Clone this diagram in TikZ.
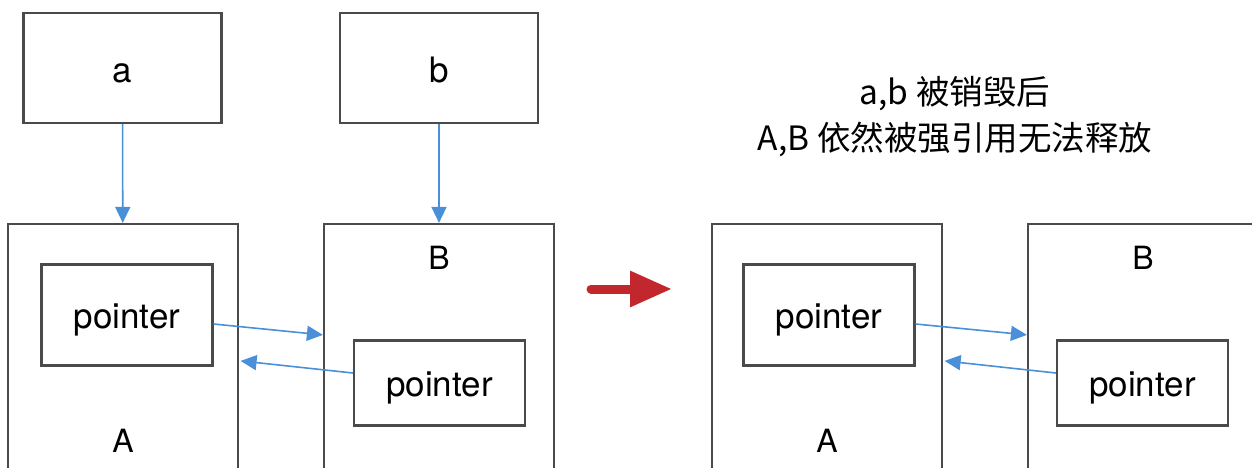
\documentclass[tikz,border=0pt]{standalone}
\usepackage{fontspec}
\setmainfont{TeX Gyre Heros}
\newfontfamily\cjk{Noto Sans CJK SC}
\usepackage{tikz}
\usetikzlibrary{arrows,arrows.meta}
\definecolor{boxgray}{HTML}{4A4A4A}
\definecolor{ptrblue}{HTML}{4A90D9}
\definecolor{bigred}{HTML}{C1272D}

\begin{document}
\begin{tikzpicture}[x=1pt,y=-1pt,
  var node/.style={rectangle,draw=boxgray,line width=2.2pt,minimum width=198pt,minimum height=110pt,
    inner sep=0pt,text height=30pt,text depth=0pt,font=\fontsize{35}{40}\selectfont},
  obj node/.style={rectangle,draw=boxgray,line width=2.2pt,minimum width=230pt,minimum height=306pt,inner sep=0pt},
  ptr node/.style={rectangle,draw=boxgray,line width=2.2pt,minimum width=171pt,
    inner sep=0pt,text height=26pt,text depth=0pt,font=\fontsize{35}{40}\selectfont},
  name node/.style={anchor=base,inner sep=0pt,font=\fontsize{32}{38}\selectfont},
  note node/.style={anchor=base,inner sep=0pt,font=\cjk\fontsize{33.5}{45}\selectfont},
  ref/.style={draw=ptrblue,line width=1.6pt,-{Triangle[length=16pt,width=15pt]}}]

  \useasboundingbox (0,0) rectangle (1252,468);
  \clip (0,0) rectangle (1252,468);

  % before: a and b still hold A and B
  \node[var node] (a) at (122.5,68) {a};
  \node[var node] (b) at (439,68) {b};
  \node[obj node] (A) at (123,377) {};
  \node[obj node] (B) at (439,377) {};
  \node[ptr node,minimum height=101pt] (pA) at (127,315) {pointer};
  \node[ptr node,minimum height=85pt] (pB) at (439.5,383) {pointer};
  \node[name node] (Alab) at (123,452) {A};
  \node[name node] (Blab) at (439,269) {B};

  \draw[ref] (a) -- (A);
  \draw[ref] (b) -- (B);
  \draw[ref] ([yshift=-9pt]pA.east) -- ([yshift=-112pt]B.north west);
  \draw[ref] ([yshift=10pt]pB.west) -- ([yshift=-138pt,xshift=1.5pt]A.north east);

  % big red arrow
  \coordinate (rs) at (591,289);
  \coordinate (re) at (672,289);
  \draw[bigred,line width=9pt,line cap=round,-{Triangle[length=42pt,width=34pt]}] (rs) -- (re);

  % after: a and b destroyed
  \node[note node] (note1) at (955,105) {a,b 被销毁后};
  \node[note node] (note2) at (955,150) {A,B 依然被强引用无法释放};

  \node[obj node] (A2) at (827,377) {};
  \node[obj node] (B2) at (1143,377) {};
  \node[ptr node,minimum height=101pt] (pA2) at (829,315) {pointer};
  \node[ptr node,minimum height=85pt] (pB2) at (1142.5,383) {pointer};
  \node[name node] (A2lab) at (827,452) {A};
  \node[name node] (B2lab) at (1143,269) {B};

  \draw[ref] ([yshift=-9pt]pA2.east) -- ([yshift=-112pt]B2.north west);
  \draw[ref] ([yshift=10pt]pB2.west) -- ([yshift=-138pt,xshift=1.5pt]A2.north east);

\end{tikzpicture}
\end{document}
